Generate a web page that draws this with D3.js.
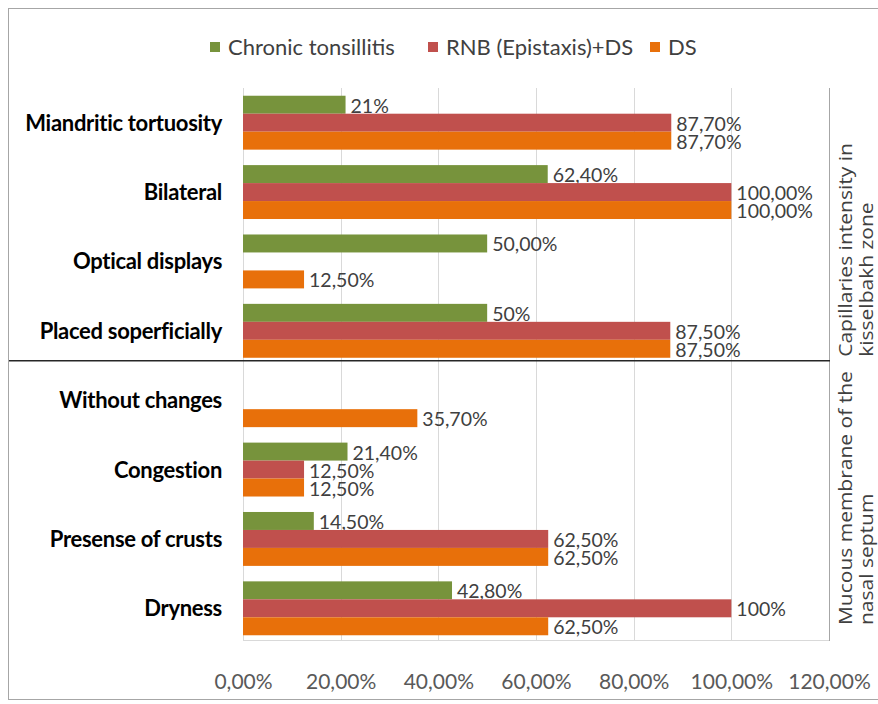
<!DOCTYPE html>
<html>
<head>
<meta charset="utf-8">
<script src="https://cdn.jsdelivr.net/npm/d3@7"></script>
<style>
  html, body { margin: 0; padding: 0; background: #fff; }
  svg { display: block; }
</style>
</head>
<body>
<svg id="chart" width="878" height="704"></svg>
<script>
// ---- data ----
const categories = [
  "Miandritic tortuosity", "Bilateral", "Optical displays", "Placed soperficially",
  "Without changes", "Congestion", "Presense of crusts", "Dryness"
];
const seriesNames = ["Chronic tonsillitis", "RNB (Epistaxis)+DS", "DS"];
const chronicTonsillitis = [21, 62.4, 50, 50, null, 21.4, 14.5, 42.8];
const rnbDs = [87.7, 100, null, 87.5, null, 12.5, 62.5, 100];
const ds = [87.7, 100, 12.5, 87.5, 35.7, 12.5, 62.5, 62.5];
const chronicLabels = ["21%", "62,40%", "50,00%", "50%", "", "21,40%", "14,50%", "42,80%"];
const rnbLabels = ["87,70%", "100,00%", "", "87,50%", "", "12,50%", "62,50%", "100%"];
const dsLabels = ["87,70%", "100,00%", "12,50%", "87,50%", "35,70%", "12,50%", "62,50%", "62,50%"];
const xTicks = [0, 20, 40, 60, 80, 100, 120];
const xTickLabels = ["0,00%", "20,00%", "40,00%", "60,00%", "80,00%", "100,00%", "120,00%"];
const groupTitles = [
  ["Capillaries intensity in", "kisselbakh zone"],
  ["Mucous membrane of the", "nasal septum"]
];
const colors = ["#77933C", "#C0504D", "#E8700A"];

const seriesValues = [chronicTonsillitis, rnbDs, ds];
const seriesLabels = [chronicLabels, rnbLabels, dsLabels];

// ---- layout ----
const svg = d3.select("#chart");
const plotLeft = 243, plotRight = 829, plotTop = 88, plotBottom = 643;
const fontMain = "Lato, 'Open Sans', sans-serif";

const x = d3.scaleLinear().domain([0, 120]).range([plotLeft, plotRight]);
const p = 0.223;
const y = d3.scaleBand().domain(categories).range([plotTop, plotBottom])
  .paddingInner(p).paddingOuter(p / 2);
const ys = d3.scaleBand().domain(d3.range(seriesNames.length)).range([0, y.bandwidth()]);

// outer frame
svg.append("rect").attr("x", 8.5).attr("y", 8.5).attr("width", 900).attr("height", 691)
  .attr("fill", "none").attr("stroke", "#a6a6a6").attr("stroke-width", 1);

// gridlines
svg.append("g").selectAll("line").data(xTicks).join("line")
  .attr("x1", d => Math.round(x(d)) + 0.5).attr("x2", d => Math.round(x(d)) + 0.5)
  .attr("y1", plotTop).attr("y2", plotBottom - 2)
  .attr("stroke", "#d9d9d9").attr("stroke-width", 1);
svg.append("line").attr("x1", plotLeft).attr("x2", plotRight)
  .attr("y1", plotBottom - 2.5).attr("y2", plotBottom - 2.5)
  .attr("stroke", "#d9d9d9");
// right frame line of plot
svg.append("line").attr("x1", x(120) + 0.5).attr("x2", x(120) + 0.5)
  .attr("y1", plotTop).attr("y2", plotBottom - 2)
  .attr("stroke", "#a6a6a6");

// x axis labels
const xAxis = d3.axisBottom(x).tickValues(xTicks)
  .tickFormat((d, i) => xTickLabels[i]).tickSize(0).tickPadding(0);
const gx = svg.append("g").attr("transform", `translate(0, ${plotBottom + 31})`).call(xAxis);
gx.select(".domain").remove();
gx.selectAll("text").attr("font-family", fontMain).attr("font-size", 21)
  .attr("fill", "#595959");

// bars
seriesValues.forEach((vals, si) => {
  const g = svg.append("g");
  const rows = categories.map((c, i) => ({ c, v: vals[i], label: seriesLabels[si][i] }))
    .filter(d => d.v !== null);
  g.selectAll("rect").data(rows).join("rect")
    .attr("x", x(0))
    .attr("y", d => y(d.c) + ys(si))
    .attr("width", d => x(d.v) - x(0))
    .attr("height", ys.bandwidth())
    .attr("fill", colors[si]);
  g.selectAll("text").data(rows).join("text")
    .attr("x", d => x(d.v) + 5)
    .attr("y", d => y(d.c) + ys(si) + ys.bandwidth() / 2 + 8)
    .attr("font-family", fontMain).attr("font-size", 19.5)
    .attr("fill", "#404040")
    .text(d => d.label);
});

// category labels
svg.append("g").selectAll("text").data(categories).join("text")
  .attr("x", 222)
  .attr("y", d => y(d) + y.bandwidth() / 2 + 8)
  .attr("text-anchor", "end")
  .attr("font-family", fontMain)
  .attr("font-weight", "bold").attr("font-size", 22)
  .attr("letter-spacing", -0.3)
  .attr("fill", "#000")
  .text(d => d);

// separator between groups
const sepY = y(categories[3]) + y.bandwidth() + 3;
svg.append("line").attr("x1", 9).attr("x2", x(120) + 1)
  .attr("y1", sepY).attr("y2", sepY)
  .attr("stroke", "#262626").attr("stroke-width", 1.6);

// group titles (rotated, stretched along their length like the source)
const groupBottoms = [sepY - 4, plotBottom - 18];
groupTitles.forEach((lines, gi) => {
  lines.forEach((t, li) => {
    const bx = 852 + li * 21;
    svg.append("text")
      .attr("transform", `translate(${bx}, ${groupBottoms[gi]}) rotate(-90) scale(1.2, 1)`)
      .attr("font-family", "'Open Sans', sans-serif").attr("font-size", 17.5)
      .attr("fill", "#404040")
      .text(t);
  });
});

// legend
const legendItems = seriesNames.map((n, i) => ({ n, c: colors[i] }));
const legendX = [210, 428, 650];
const lg = svg.append("g");
legendItems.forEach((d, i) => {
  lg.append("rect").attr("x", legendX[i]).attr("y", 42).attr("width", 10).attr("height", 10)
    .attr("fill", d.c);
  lg.append("text").attr("x", legendX[i] + 18).attr("y", 55)
    .attr("font-family", fontMain).attr("font-size", 22).attr("fill", "#404040")
    .text(d.n);
});
</script>
</body>
</html>
